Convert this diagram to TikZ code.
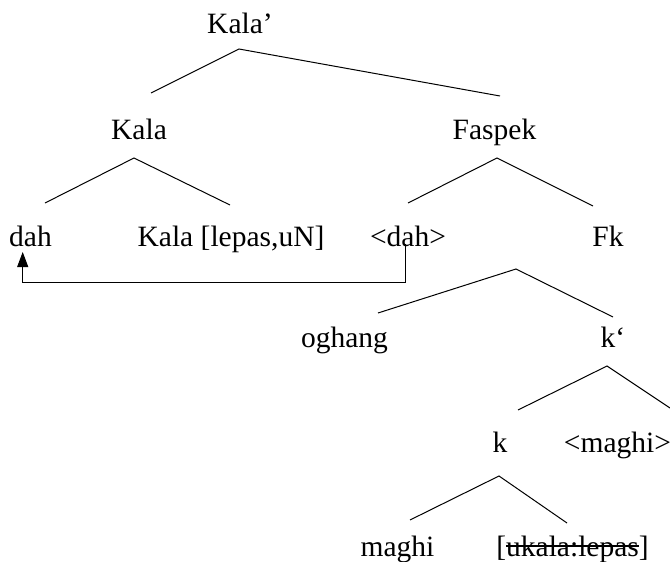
\documentclass[tikz,border=0pt]{standalone}
\usepackage{fontspec}
\setmainfont{Liberation Serif}
\usetikzlibrary{arrows.meta}
% struck-out text: a rule laid over the box of its argument
\newcommand{\struck}[1]{\setbox0\hbox{#1}\rlap{\rule[0.32em]{\wd0}{1.1pt}}\box0}

\begin{document}
\begin{tikzpicture}[x=1pt,y=-1pt,
  lbl/.style={anchor=base,inner sep=0pt,font=\fontsize{29.5}{35}\selectfont},
  branch/.style={line width=1pt},
  movearrow/.style={line width=1pt,-{Triangle[length=15pt,width=11pt]}}]
\useasboundingbox (0,0) rectangle (670,562);

% labels of the tree
\node[lbl] (kalabar)  at (240,33)    {Kala’};
\node[lbl] (kala)     at (139,139)   {Kala};
\node[lbl] (faspek)   at (494.5,139) {Faspek};
\node[lbl] (dah)      at (30.5,246)  {dah};
\node[lbl] (kalahead) at (231,246)   {Kala [lepas,uN]};
\node[lbl] (dahcopy)  at (408,246)   {<dah>};
\node[lbl] (fk)       at (608,246)   {Fk};
\node[lbl] (oghang)   at (344.5,347) {oghang};
\node[lbl] (kbar)     at (613,347)   {k‘};
\node[lbl] (k)        at (500,452)   {k};
\node[lbl] (maghicp)  at (617.5,452) {<maghi>};
\node[lbl] (maghi)    at (397.5,556) {maghi};
\node[lbl] (feat)     at (572.5,556) {[\struck{ukala:lepas}]};

% branch points
\coordinate (kalabar-top)   at (239,49);
\coordinate (kala-end)      at (151,93);
\coordinate (faspek-end)    at (500,96);
\coordinate (kala-top)      at (134,158);
\coordinate (dah-end)       at (45,203);
\coordinate (kalahead-end)  at (230,205);
\coordinate (faspek-top)    at (497,158);
\coordinate (dahcopy-end)   at (408,203);
\coordinate (fk-end)        at (593,206);
\coordinate (fk-top)        at (516,269);
\coordinate (oghang-end)    at (378,313);
\coordinate (kbar-end)      at (613,317);
\coordinate (kbar-top)      at (607,366);
\coordinate (k-end)         at (518,410);
\coordinate (maghicp-end)   at (670,408);
\coordinate (k-top)         at (499,476);
\coordinate (maghi-end)     at (410,520);
\coordinate (feat-end)      at (567,523);

% branches
\draw[branch] (kala-end) -- (kalabar-top) -- (faspek-end);
\draw[branch] (dah-end) -- (kala-top) -- (kalahead-end);
\draw[branch] (dahcopy-end) -- (faspek-top) -- (fk-end);
\draw[branch] (oghang-end) -- (fk-top) -- (kbar-end);
\draw[branch] (k-end) -- (kbar-top) -- (maghicp-end);
\draw[branch] (maghi-end) -- (k-top) -- (feat-end);

% movement of dah
\coordinate (trace)   at (405,244);
\coordinate (landing) at (22.7,252);
\draw[movearrow] (trace) -- ++(0,38) -| (landing);
\end{tikzpicture}
\end{document}
